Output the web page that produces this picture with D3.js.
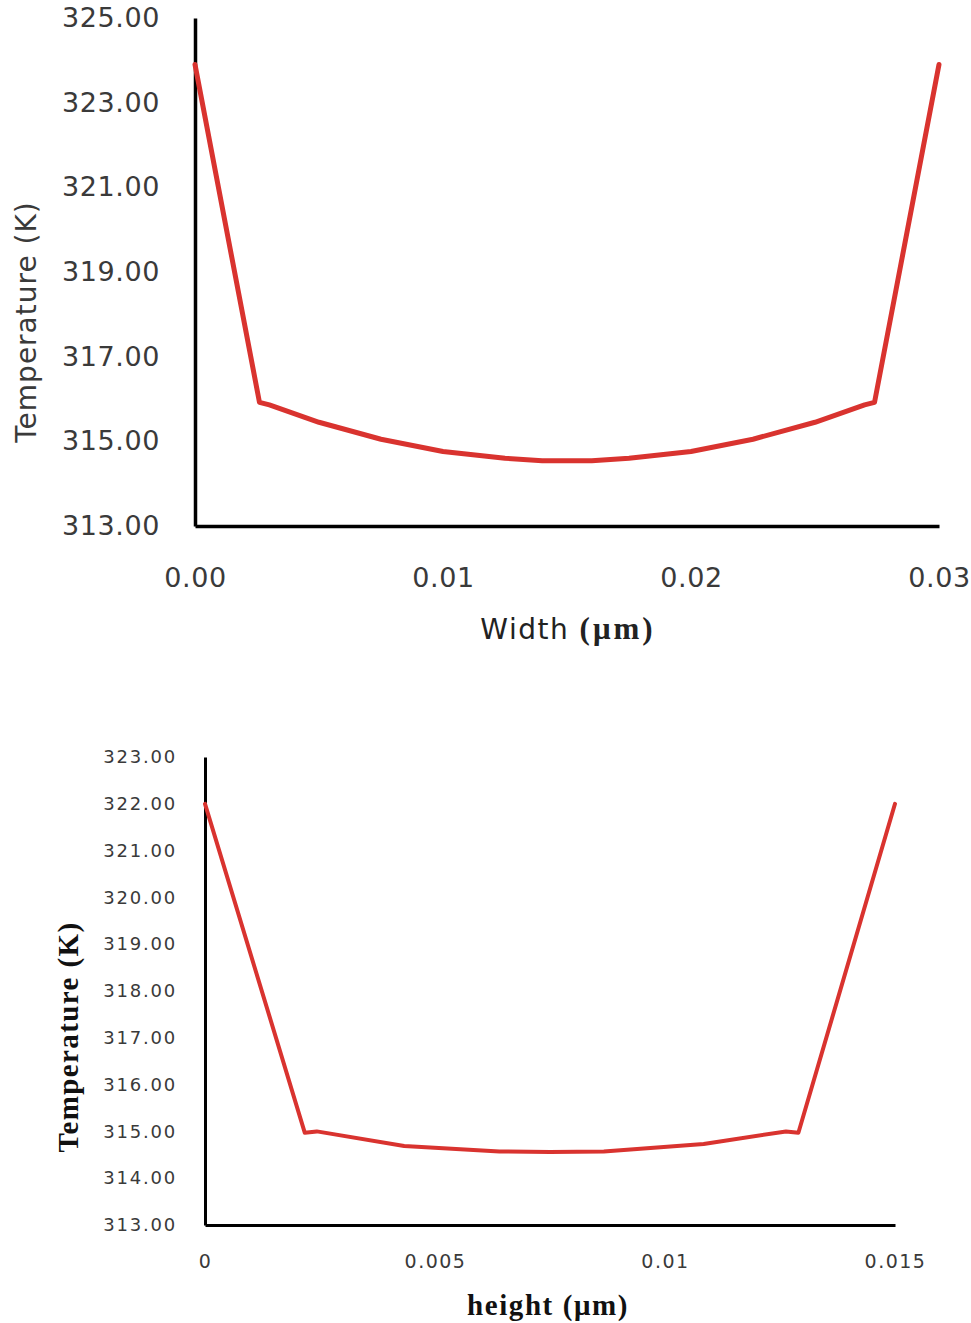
<!DOCTYPE html>
<html>
<head>
<meta charset="utf-8">
<script src="https://cdn.jsdelivr.net/npm/d3@7/dist/d3.min.js"></script>
<style>
  body { margin: 0; background: #fff; }
</style>
</head>
<body>
<div id="chart"></div>
<script>
// top chart: temperature across the width
const widthPos = [0, 0.0026, 0.003, 0.005, 0.0075, 0.01, 0.0125, 0.014, 0.016, 0.0175, 0.02, 0.0225, 0.025, 0.027, 0.0274, 0.03];
const widthTemp = [323.9, 315.92, 315.86, 315.45, 315.05, 314.76, 314.6, 314.54, 314.54, 314.6, 314.76, 315.05, 315.45, 315.86, 315.92, 323.9];
const widthXTicks = [0, 0.01, 0.02, 0.03];
const widthYTicks = [313, 315, 317, 319, 321, 323, 325];

// bottom chart: temperature across the height
const heightPos = [0, 0.00217, 0.00243, 0.00433, 0.0064, 0.0075, 0.00867, 0.01084, 0.01263, 0.0129, 0.015];
const heightTemp = [322.0, 314.97, 315.0, 314.69, 314.57, 314.56, 314.57, 314.73, 315.0, 314.97, 322.0];
const heightXTicks = [0, 0.005, 0.01, 0.015];
const heightYTicks = [313, 314, 315, 316, 317, 318, 319, 320, 321, 322, 323];

const lineColor = "#d9332f";
const labelColor = "#3a3a3a";

const svg = d3.select("#chart").append("svg")
    .attr("width", 971)
    .attr("height", 1323);

// ---------- top chart ----------
const x1 = d3.scaleLinear().domain([0, 0.03]).range([195, 939]);
const y1 = d3.scaleLinear().domain([313, 325]).range([526, 18]);

const topG = svg.append("g");

const xAxis1 = topG.append("g")
    .attr("transform", "translate(0,526)")
    .call(d3.axisBottom(x1).tickValues(widthXTicks).tickFormat(d3.format(".2f"))
        .tickSize(0).tickPadding(42));
const yAxis1 = topG.append("g")
    .attr("transform", "translate(195,0)")
    .call(d3.axisLeft(y1).tickValues(widthYTicks).tickFormat(d3.format(".2f"))
        .tickSize(0).tickPadding(35));

[xAxis1, yAxis1].forEach(a => {
    a.select(".domain").attr("stroke", "#000").attr("stroke-width", 3.5);
    a.selectAll("text")
        .attr("fill", labelColor)
        .style("font-family", "'DejaVu Sans', Verdana, sans-serif")
        .style("font-size", "27px")
        .style("letter-spacing", "0.6px");
});

const line1 = d3.line()
    .x((d, i) => x1(widthPos[i]))
    .y(d => y1(d));

topG.append("path")
    .datum(widthTemp)
    .attr("fill", "none")
    .attr("stroke", lineColor)
    .attr("stroke-width", 5)
    .attr("stroke-linejoin", "round")
    .attr("stroke-linecap", "round")
    .attr("d", line1);

topG.append("text")
    .attr("transform", "translate(36,322) rotate(-90)")
    .attr("text-anchor", "middle")
    .attr("fill", labelColor)
    .style("font-family", "'DejaVu Sans', Verdana, sans-serif")
    .style("font-size", "28px")
    .style("letter-spacing", "1px")
    .text("Temperature (K)");

const xl1 = topG.append("text")
    .attr("x", 568)
    .attr("y", 639)
    .attr("text-anchor", "middle")
    .attr("fill", "#222");
xl1.append("tspan")
    .style("font-family", "'DejaVu Sans', Verdana, sans-serif")
    .style("font-size", "28px")
    .style("letter-spacing", "1.5px")
    .text("Width ");
xl1.append("tspan")
    .style("font-family", "'Liberation Serif', 'Times New Roman', serif")
    .style("font-weight", "bold")
    .style("font-size", "31px")
    .style("letter-spacing", "3px")
    .text("(μm)");

// ---------- bottom chart ----------
const x2 = d3.scaleLinear().domain([0, 0.015]).range([205, 895]);
const y2 = d3.scaleLinear().domain([313, 323]).range([1225, 757]);

const bottomG = svg.append("g");

const xAxis2 = bottomG.append("g")
    .attr("transform", "translate(0,1225)")
    .call(d3.axisBottom(x2).tickValues(heightXTicks).tickFormat(d => String(d))
        .tickSize(0).tickPadding(30));
const yAxis2 = bottomG.append("g")
    .attr("transform", "translate(205,0)")
    .call(d3.axisLeft(y2).tickValues(heightYTicks).tickFormat(d3.format(".2f"))
        .tickSize(0).tickPadding(28));

[xAxis2, yAxis2].forEach(a => {
    a.select(".domain").attr("stroke", "#000").attr("stroke-width", 3);
    a.selectAll("text")
        .attr("fill", labelColor)
        .style("font-family", "'DejaVu Sans', Verdana, sans-serif");
});
yAxis2.selectAll("text").style("font-size", "18px").style("letter-spacing", "1.8px");
xAxis2.selectAll("text").style("font-size", "19px").style("letter-spacing", "1.5px");

const line2 = d3.line()
    .x((d, i) => x2(heightPos[i]))
    .y(d => y2(d));

bottomG.append("path")
    .datum(heightTemp)
    .attr("fill", "none")
    .attr("stroke", lineColor)
    .attr("stroke-width", 4)
    .attr("stroke-linejoin", "round")
    .attr("stroke-linecap", "round")
    .attr("d", line2);

bottomG.append("text")
    .attr("transform", "translate(78,1037) rotate(-90)")
    .attr("text-anchor", "middle")
    .attr("fill", "#111")
    .style("font-family", "'Liberation Serif', 'Times New Roman', serif")
    .style("font-weight", "bold")
    .style("font-size", "29px")
    .style("letter-spacing", "1.4px")
    .text("Temperature (K)");

bottomG.append("text")
    .attr("x", 548)
    .attr("y", 1315)
    .attr("text-anchor", "middle")
    .attr("fill", "#111")
    .style("font-family", "'Liberation Serif', 'Times New Roman', serif")
    .style("font-weight", "bold")
    .style("font-size", "29px")
    .style("letter-spacing", "1.6px")
    .text("height (μm)");
</script>
</body>
</html>
